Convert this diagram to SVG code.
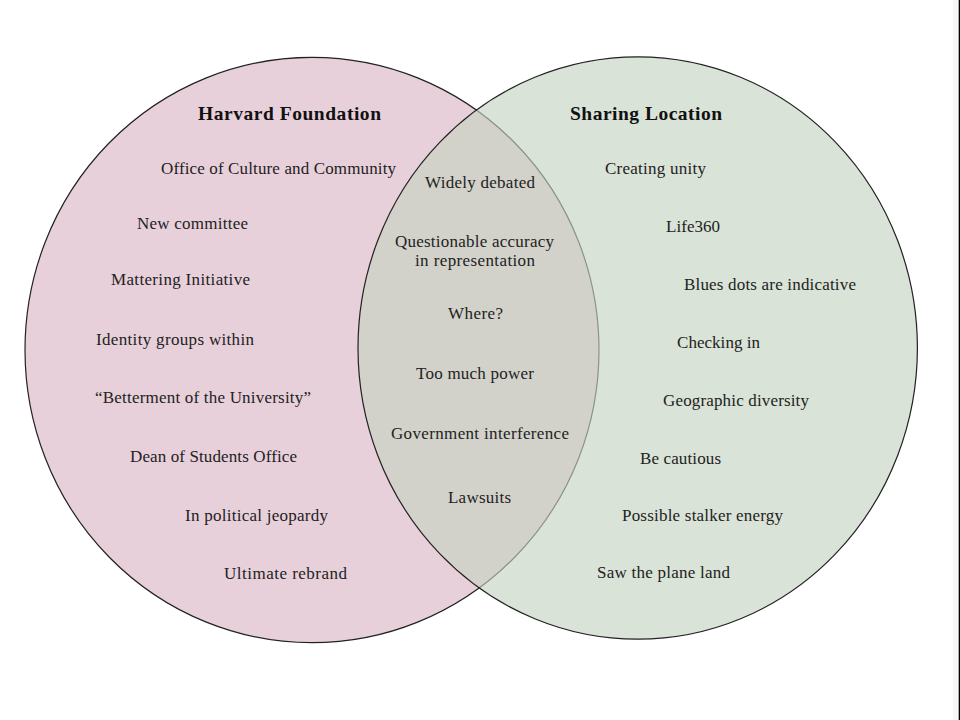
<svg xmlns="http://www.w3.org/2000/svg" width="960" height="720" viewBox="0 0 960 720">
<style>
text{font-family:"Liberation Serif","DejaVu Serif",serif;font-size:17px;fill:#222;text-anchor:middle}
.h{font-weight:bold;font-size:19.5px;fill:#111}
.c{stroke:#222;stroke-width:1.2}
</style>
<rect width="960" height="720" fill="#fff"/>
<rect x="953" y="0" width="6" height="720" fill="#f7f7f7"/>
<rect x="958.7" y="0" width="1.3" height="720" fill="#000"/>
<g id="circle-left">
<ellipse class="c" cx="312" cy="350" rx="287" ry="292.7" fill="#e8d0db"/>
</g>
<g id="circle-right">
<ellipse class="c" cx="637.7" cy="348" rx="279.7" ry="291.2" fill="#c5d3c0" fill-opacity="0.64"/>
</g>
<g id="connectors"></g>
<g id="left-labels">
<text class="h" x="289.5" y="119.5" textLength="183">Harvard Foundation</text>
<text x="278.5" y="174" textLength="235">Office of Culture and Community</text>
<text x="192.5" y="229" textLength="111">New committee</text>
<text x="180.5" y="285" textLength="139">Mattering Initiative</text>
<text x="175" y="345" textLength="158">Identity groups within</text>
<text x="203" y="403" textLength="216">“Betterment of the University”</text>
<text x="213.5" y="462" textLength="167">Dean of Students Office</text>
<text x="256.5" y="521" textLength="143">In political jeopardy</text>
<text x="285.5" y="579" textLength="123">Ultimate rebrand</text>
</g>
<g id="right-labels">
<text class="h" x="646" y="119.5" textLength="152">Sharing Location</text>
<text x="655.5" y="174" textLength="101">Creating unity</text>
<text x="693" y="232" textLength="54">Life360</text>
<text x="770" y="290" textLength="172">Blues dots are indicative</text>
<text x="718.5" y="348" textLength="83">Checking in</text>
<text x="736" y="406" textLength="146">Geographic diversity</text>
<text x="680.5" y="464" textLength="81">Be cautious</text>
<text x="702.5" y="521" textLength="161">Possible stalker energy</text>
<text x="663.5" y="578" textLength="133">Saw the plane land</text>
</g>
<g id="overlap-labels">
<text x="480" y="188" textLength="110">Widely debated</text>
<text x="474.5" y="247" textLength="159">Questionable accuracy</text>
<text x="475" y="266" textLength="120">in representation</text>
<text x="475.5" y="319" textLength="55">Where?</text>
<text x="475" y="379" textLength="118">Too much power</text>
<text x="480" y="439" textLength="178">Government interference</text>
<text x="479.5" y="503" textLength="63">Lawsuits</text>
</g>
</svg>
